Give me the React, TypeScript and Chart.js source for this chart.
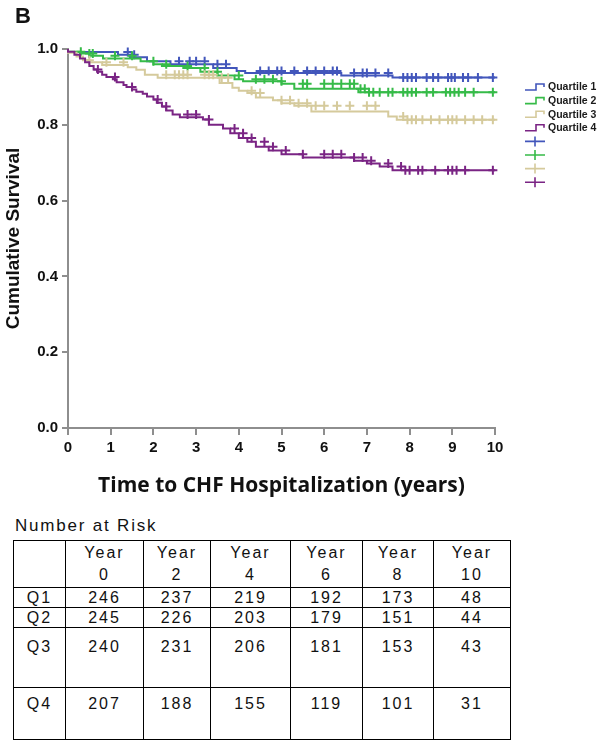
import React, { useEffect, useRef } from "react";
import { Chart, registerables } from "chart.js";

Chart.register(...registerables);

// ---- Kaplan-Meier step curves (time in years, cumulative survival) ----
const Q1_TIMES = [0, 1.17, 1.45, 1.85, 2.4, 3.4, 3.95, 4.15, 6.4, 7.6, 7.8, 10];
const Q1_SURV = [1.0, 0.992, 0.985, 0.978, 0.968, 0.96, 0.95, 0.942, 0.937, 0.93, 0.925, 0.925];
const Q1_CENSOR = [1.4, 1.55, 2.6, 2.85, 3.0, 3.2, 3.5, 3.7, 4.5, 4.7, 4.9, 5.0, 5.3, 5.6, 5.8, 6.0, 6.2, 6.3, 6.7, 6.9, 7.0, 7.2, 7.5, 7.85, 7.95, 8.05, 8.15, 8.4, 8.55, 8.67, 8.9, 8.98, 9.06, 9.25, 9.37, 9.6, 9.95];

const Q2_TIMES = [0, 0.28, 0.5, 0.82, 1.7, 2.0, 2.2, 2.7, 3.1, 3.5, 3.9, 4.1, 5.0, 5.3, 6.8, 7.0, 10];
const Q2_SURV = [1.0, 0.993, 0.988, 0.982, 0.975, 0.968, 0.96, 0.955, 0.95, 0.94, 0.93, 0.92, 0.915, 0.908, 0.895, 0.886, 0.886];
const Q2_CENSOR = [0.3, 0.5, 0.58, 1.1, 1.5, 2.0, 2.3, 2.8, 3.2, 3.5, 4.0, 4.4, 4.6, 4.8, 5.0, 5.5, 5.6, 6.0, 6.2, 6.4, 6.6, 6.7, 6.85, 6.95, 7.05, 7.15, 7.3, 7.5, 7.6, 7.85, 7.95, 8.05, 8.15, 8.4, 8.55, 8.85, 8.95, 9.05, 9.15, 9.3, 9.5, 9.95];

const Q3_TIMES = [0, 0.2, 0.35, 0.5, 0.8, 1.4, 1.6, 1.8, 2.1, 3.55, 3.85, 4.0, 4.2, 4.4, 4.8, 5.0, 5.3, 5.7, 7.5, 7.7, 7.9, 10];
const Q3_SURV = [1.0, 0.99, 0.98, 0.97, 0.965, 0.958, 0.952, 0.945, 0.932, 0.924, 0.91, 0.898, 0.89, 0.884, 0.872, 0.865, 0.857, 0.85, 0.835, 0.822, 0.813, 0.813];
const Q3_CENSOR = [0.5, 0.9, 1.3, 2.3, 2.5, 2.6, 2.7, 2.8, 3.2, 3.3, 3.4, 3.6, 3.75, 4.3, 4.5, 5.0, 5.2, 5.4, 5.6, 5.8, 6.0, 6.3, 6.6, 7.0, 7.2, 7.85, 7.95, 8.05, 8.15, 8.3, 8.5, 8.7, 8.9, 9.0, 9.1, 9.3, 9.5, 9.7, 9.95];

const Q4_TIMES = [0, 0.15, 0.28, 0.4, 0.5, 0.6, 0.68, 0.8, 0.9, 1.05, 1.14, 1.3, 1.37, 1.5, 1.6, 1.75, 1.85, 2.0, 2.08, 2.2, 2.3, 2.45, 2.62, 3.16, 3.3, 3.63, 3.8, 4.0, 4.2, 4.4, 4.7, 5.0, 5.5, 6.7, 7.0, 7.3, 7.6, 7.9, 10];
const Q4_SURV = [1.0, 0.993, 0.985, 0.975, 0.965, 0.955, 0.946, 0.94, 0.932, 0.926, 0.92, 0.912, 0.905, 0.9, 0.893, 0.887, 0.882, 0.875, 0.867, 0.858, 0.848, 0.838, 0.827, 0.82, 0.814, 0.8, 0.79, 0.778, 0.765, 0.755, 0.742, 0.732, 0.722, 0.714, 0.705, 0.698, 0.69, 0.68, 0.68];
const Q4_CENSOR = [0.7, 1.1, 1.5, 2.1, 2.3, 2.8, 3.0, 3.3, 3.9, 4.1, 4.3, 4.6, 4.8, 5.1, 5.5, 6.0, 6.2, 6.4, 6.7, 6.9, 7.1, 7.5, 7.8, 7.9, 8.0, 8.2, 8.3, 8.6, 8.9, 9.0, 9.1, 9.3, 9.95];

const SERIES_LABELS = ["Quartile 1", "Quartile 2", "Quartile 3", "Quartile 4"];
const SERIES_COLORS = ["#4256bb", "#36bb48", "#d5ca9c", "#7a2484"];

// ---- Number at risk table ----
const RISK_YEARS = ["0", "2", "4", "6", "8", "10"];
const RISK_ROWS = ["Q1", "Q2", "Q3", "Q4"];
const RISK_Q1 = [246, 237, 219, 192, 173, 48];
const RISK_Q2 = [245, 226, 203, 179, 151, 44];
const RISK_Q3 = [240, 231, 206, 181, 153, 43];
const RISK_Q4 = [207, 188, 155, 119, 101, 31];

const Y_TICK_LABELS = ["0.0", "0.2", "0.4", "0.6", "0.8", "1.0"];

function stepAt(times: number[], surv: number[], t: number) {
  let v = surv[0];
  for (let i = 0; i < times.length; i++) if (times[i] <= t) v = surv[i];
  return v;
}

const FONT = "'Liberation Sans', Arial, sans-serif";

const legendPlugin = {
  id: "kmLegend",
  afterDraw(chart: any) {
    const ctx = chart.ctx;
    const area = chart.chartArea;
    const x0 = area.right + 30;
    const y0 = area.top + 38;
    const gap = 13.6;
    ctx.save();
    ctx.lineWidth = 1.6;
    ctx.font = "bold 10.5px " + FONT;
    ctx.textBaseline = "middle";
    ctx.textAlign = "left";
    SERIES_LABELS.forEach((lab, i) => {
      const y = y0 + i * gap;
      ctx.strokeStyle = SERIES_COLORS[i];
      ctx.beginPath();
      ctx.moveTo(x0, y + 3);
      ctx.lineTo(x0 + 11, y + 3);
      ctx.lineTo(x0 + 11, y - 3);
      ctx.lineTo(x0 + 19, y - 3);
      ctx.lineTo(x0 + 19, y);
      ctx.stroke();
      ctx.fillStyle = "#1a1a1a";
      ctx.fillText(lab, x0 + 23, y + 0.5);
    });
    SERIES_COLORS.forEach((c, i) => {
      const y = y0 + (i + 4) * gap;
      ctx.strokeStyle = c;
      ctx.beginPath();
      ctx.moveTo(x0, y);
      ctx.lineTo(x0 + 20, y);
      ctx.moveTo(x0 + 10, y - 5);
      ctx.lineTo(x0 + 10, y + 5);
      ctx.stroke();
    });
    ctx.restore();
  },
};

export default function App() {
  const ref = useRef<HTMLCanvasElement | null>(null);

  useEffect(() => {
    if (!ref.current) return;
    const curves = [
      [Q1_TIMES, Q1_SURV, Q1_CENSOR],
      [Q2_TIMES, Q2_SURV, Q2_CENSOR],
      [Q3_TIMES, Q3_SURV, Q3_CENSOR],
      [Q4_TIMES, Q4_SURV, Q4_CENSOR],
    ] as number[][][];
    const datasets: any[] = [];
    curves.forEach(([ts, ss, cs], i) => {
      datasets.push({
        type: "line",
        label: SERIES_LABELS[i],
        data: ts.map((t, k) => ({ x: t, y: ss[k] })),
        stepped: "after",
        borderColor: SERIES_COLORS[i],
        borderWidth: 2,
        pointRadius: 0,
        fill: false,
        clip: false,
        order: 4 - i,
      });
      datasets.push({
        type: "scatter",
        label: SERIES_LABELS[i] + " censored",
        data: cs.map((t) => ({ x: t, y: stepAt(ts, ss, t) })),
        showLine: false,
        pointStyle: "cross",
        pointRadius: 4.5,
        pointBorderWidth: 2,
        borderColor: SERIES_COLORS[i],
        backgroundColor: SERIES_COLORS[i],
        clip: false,
        order: 4 - i,
      });
    });

    const chart = new Chart(ref.current, {
      type: "line",
      data: { datasets },
      plugins: [legendPlugin],
      options: {
        animation: false,
        responsive: false,
        events: [],
        layout: { padding: { left: 0, right: 117, top: 49, bottom: 0 } },
        plugins: { legend: { display: false }, tooltip: { enabled: false } },
        scales: {
          x: {
            type: "linear",
            min: 0,
            max: 10,
            afterFit: (s: any) => {
              s.height = 72;
            },
            border: { display: true, color: "#8e8e8e", width: 2 },
            grid: { drawOnChartArea: false, drawTicks: true, tickLength: 7, color: "#8e8e8e", lineWidth: 2 },
            ticks: {
              stepSize: 1,
              padding: 4,
              color: "#111",
              font: { family: FONT, size: 15, weight: "bold" },
            },
            title: {
              display: true,
              text: "Time to CHF Hospitalization (years)",
              color: "#111",
              font: { family: "'Open Sans', sans-serif", size: 21, weight: "bold" },
              padding: { top: 0, bottom: 1 },
            },
          },
          y: {
            type: "linear",
            min: 0,
            max: 1,
            afterFit: (s: any) => {
              s.width = 68;
            },
            border: { display: true, color: "#8e8e8e", width: 2 },
            grid: { drawOnChartArea: false, drawTicks: true, tickLength: 6, color: "#8e8e8e", lineWidth: 2 },
            ticks: {
              stepSize: 0.2,
              padding: 4,
              color: "#111",
              font: { family: FONT, size: 15, weight: "bold" },
              callback: (v: any) => Y_TICK_LABELS[Math.round(Number(v) * 5)] ?? "",
            },
            title: {
              display: true,
              text: "Cumulative Survival",
              color: "#111",
              font: { family: FONT, size: 19, weight: "bold" },
              padding: { top: 2, bottom: 0 },
            },
          },
        },
      } as any,
    });
    return () => chart.destroy();
  }, []);

  const cell: React.CSSProperties = {
    border: "1.5px solid #000",
    textAlign: "center",
    padding: 0,
    fontFamily: FONT,
    fontSize: 16,
    letterSpacing: "2px",
    color: "#111",
    lineHeight: "19px",
  };
  const rows = [RISK_Q1, RISK_Q2, RISK_Q3, RISK_Q4];
  const rowHeights = [19, 19, 60, 52];
  const rowPads = [0, 0, 9, 6];
  const colWidths = [52, 78, 67, 80, 72, 71, 77];

  return (
    <div style={{ position: "absolute", left: 0, top: 0, width: 612, height: 740, background: "#fff" }}>
      <canvas ref={ref} width={612} height={500} style={{ position: "absolute", left: 0, top: 0, width: 612, height: 500 }} />
      <div
        style={{
          position: "absolute",
          left: 15,
          top: 3,
          fontFamily: FONT,
          fontWeight: "bold",
          fontSize: 22,
          color: "#111",
        }}
      >
        B
      </div>
      <div
        style={{
          position: "absolute",
          left: 15,
          top: 516,
          fontFamily: FONT,
          fontSize: 17,
          letterSpacing: "1.8px",
          color: "#111",
          lineHeight: "20px",
        }}
      >
        Number at Risk
      </div>
      <table
        style={{
          position: "absolute",
          left: 13,
          top: 540,
          borderCollapse: "collapse",
          tableLayout: "fixed",
          width: 497,
        }}
      >
        <colgroup>
          {colWidths.map((w, i) => (
            <col key={i} style={{ width: w }} />
          ))}
        </colgroup>
        <tbody>
          <tr style={{ height: 47 }}>
            <td style={cell}></td>
            {RISK_YEARS.map((y) => (
              <td key={y} style={{ ...cell, lineHeight: "22px", verticalAlign: "middle" }}>
                Year
                <br />
                {y}
              </td>
            ))}
          </tr>
          {rows.map((r, i) => (
            <tr key={i} style={{ height: rowHeights[i] }}>
              <td style={{ ...cell, verticalAlign: "top", paddingTop: rowPads[i] }}>{RISK_ROWS[i]}</td>
              {r.map((v, k) => (
                <td key={k} style={{ ...cell, verticalAlign: "top", paddingTop: rowPads[i] }}>
                  {v}
                </td>
              ))}
            </tr>
          ))}
        </tbody>
      </table>
    </div>
  );
}
